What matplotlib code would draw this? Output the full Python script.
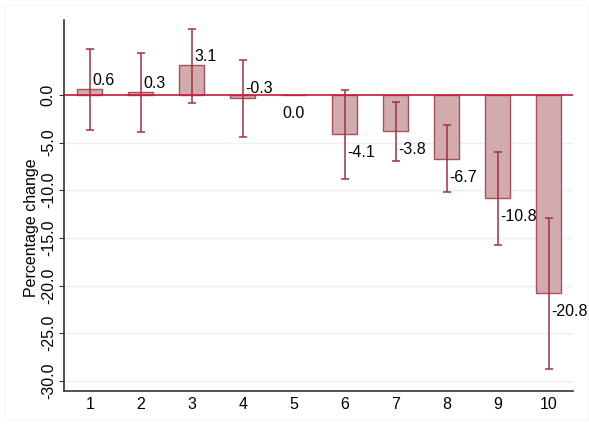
import matplotlib.pyplot as plt
import matplotlib.patches as mpatches
import numpy as np

plt.rcParams['font.family'] = ['Liberation Sans', 'DejaVu Sans']

# deciles and estimated percentage change with 95% confidence bounds
groups = [1, 2, 3, 4, 5, 6, 7, 8, 9, 10]
pct_change = [0.6, 0.3, 3.1, -0.3, 0.0, -4.1, -3.8, -6.7, -10.8, -20.8]
ci_low = [-3.7, -3.9, -0.8, -4.4, 0.0, -8.8, -6.9, -10.2, -15.7, -28.8]
ci_high = [4.8, 4.4, 6.9, 3.7, 0.0, 0.5, -0.7, -3.2, -6.0, -12.9]
ytick_vals = [0, -5, -10, -15, -20, -25, -30]

bar_fill = '#d2abaf'
bar_edge = '#a8505b'
ci_col = '#a3303f'
fs = 11.5

fig = plt.figure(figsize=(5.89, 4.24), dpi=100)
fig.patches.append(mpatches.Rectangle((5/589, 5/424), 583/589, 414/424,
                                      transform=fig.transFigure, fill=False,
                                      edgecolor='#f6f6f6', linewidth=0.8))
ax = fig.add_axes([0.109, 0.078, 0.864, 0.875])

for y in ytick_vals[1:]:
    ax.axhline(y, color='#e8f1f4', linewidth=1.0, zorder=0)

x = np.array(groups)
vals = np.array(pct_change)
ax.bar(x, vals, width=0.49, color=bar_fill, edgecolor=bar_edge, linewidth=1.0, zorder=2)
ax.axhline(0, color='#c8193c', linewidth=1.2, zorder=3)

lo = np.array(ci_low)
hi = np.array(ci_high)
has_ci = hi > lo
ax.errorbar(x[has_ci], vals[has_ci],
            yerr=[vals[has_ci] - lo[has_ci], hi[has_ci] - vals[has_ci]],
            fmt='none', ecolor=ci_col, elinewidth=1.1, capsize=2.6, capthick=1.1, zorder=4)

# value labels: small ones sit above the bar end, the rest below it
for xi, v in zip(x, vals):
    above = (v != 0) and (v > -1)
    off = 1 if above else -8
    if v == 0:
        ax.annotate(f'{v:.1f}', (xi, v), xytext=(0, off), textcoords='offset points',
                    ha='center', va='top', fontsize=fs, zorder=5)
        continue
    ax.annotate(f'{v:.1f}', (xi, v), xytext=(2, off), textcoords='offset points',
                ha='left', va='bottom' if above else 'top', fontsize=fs, zorder=5)

ax.set_xlim(0.5, 10.48)
ax.set_ylim(-31.06, 7.87)
ax.set_xticks(groups)
ax.set_xticklabels([str(g) for g in groups])
ax.set_yticks(ytick_vals)
ax.set_yticklabels([f'{t:.1f}' for t in ytick_vals], rotation=90, va='center')
ax.tick_params(axis='x', length=0, pad=4.5, labelsize=fs)
ax.tick_params(axis='y', length=3.5, width=0.8, color='#333333', pad=2.5, labelsize=fs)
ax.set_ylabel('Percentage change', fontsize=fs)
ax.yaxis.set_label_coords(-0.05, 0.44)

for side in ['top', 'right']:
    ax.spines[side].set_visible(False)
for side in ['left', 'bottom']:
    ax.spines[side].set_color('#333333')
    ax.spines[side].set_linewidth(1.2)

fig.savefig('out.png', dpi=100)
